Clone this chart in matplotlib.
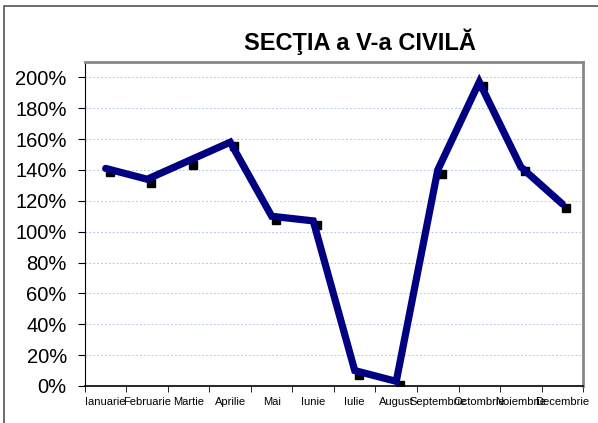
import matplotlib
matplotlib.use("Agg")
import matplotlib.pyplot as plt
import matplotlib.transforms as mtransforms
from matplotlib.patches import Rectangle
from matplotlib.ticker import FixedLocator, PercentFormatter

plt.rcParams["font.family"] = ["Liberation Sans", "DejaVu Sans"]

months = ["Ianuarie", "Februarie", "Martie", "Aprilie", "Mai", "Iunie",
          "Iulie", "August", "Septembrie", "Octombrie", "Noiembrie", "Decembrie"]
values = [141, 134, 146, 158, 110, 107, 10, 3, 140, 197, 142, 118]
y_ticks = [0, 20, 40, 60, 80, 100, 120, 140, 160, 180, 200]

fig = plt.figure(figsize=(5.98, 4.23), dpi=100)
ax = fig.add_axes([0.142, 0.0875, 0.833, 0.766])

# outer chart frame
fig.patches.append(Rectangle((4 / 598, -0.01), 1.0, 1 - 6 / 423 + 0.01,
                             transform=fig.transFigure, fill=False,
                             edgecolor="#555555", linewidth=1.2))

x = list(range(len(months)))
ax.plot(x, values, color="#000080", linewidth=5.2, solid_capstyle="round",
        solid_joinstyle="miter", zorder=3)

# small black square markers, slightly offset as in the original
offset = mtransforms.ScaledTranslation(4 / 100, -4 / 100, fig.dpi_scale_trans)
ax.plot(x, values, linestyle="none", marker="s", markersize=5.5,
        color="black", transform=ax.transData + offset, zorder=2)

ax.set_xlim(-0.5, len(months) - 0.5)
ax.set_ylim(0, 210)
ax.yaxis.set_major_locator(FixedLocator(y_ticks))
ax.yaxis.set_major_formatter(PercentFormatter(decimals=0))
ax.tick_params(axis="y", labelsize=14.5, length=5, direction="out", pad=8)

ax.set_xticks(x)
ax.set_xticklabels(months, fontsize=8)
ax.set_xticks([i - 0.5 for i in range(len(months) + 1)], minor=True)
ax.tick_params(axis="x", which="major", length=0, pad=8)
ax.tick_params(axis="x", which="minor", length=4, direction="out")

ax.grid(axis="y", color="#b8c8e8", linestyle=(0, (2, 2)), linewidth=0.7)
ax.set_axisbelow(True)

ax.spines["left"].set_color("black")
ax.spines["bottom"].set_color("black")
ax.spines["bottom"].set_linewidth(1.2)
ax.spines["top"].set_color("#888888")
ax.spines["right"].set_color("#888888")
ax.spines["top"].set_linewidth(2)
ax.spines["right"].set_linewidth(2)

fig.text(360 / 598, 1 - 42 / 423, "SECŢIA a V-a CIVILĂ", ha="center",
         va="center", fontsize=17, fontweight="bold")

fig.savefig("out.png", dpi=100)
